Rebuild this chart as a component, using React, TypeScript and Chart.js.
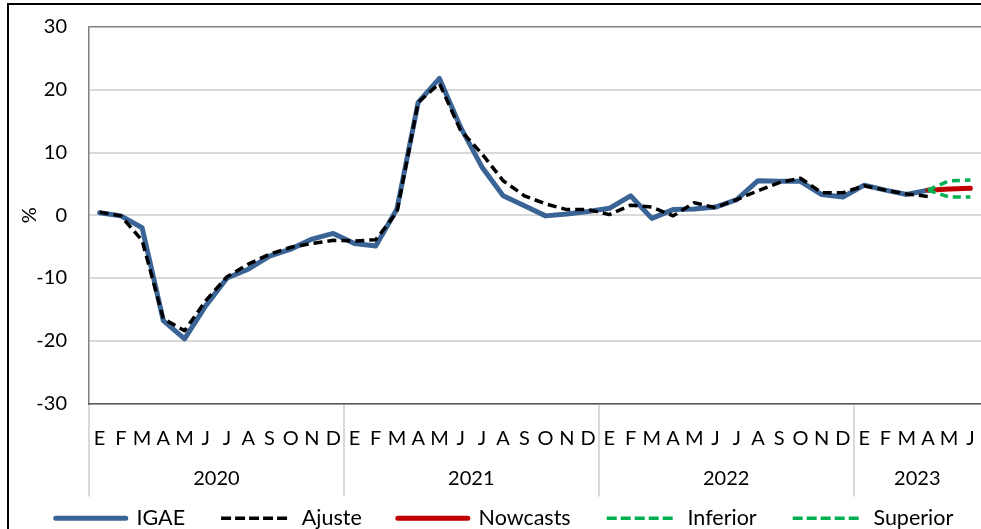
import React, { useEffect, useRef } from 'react';
import { Chart, registerables } from 'chart.js';

Chart.register(...registerables);

const monthLetters = ['E', 'F', 'M', 'A', 'M', 'J', 'J', 'A', 'S', 'O', 'N', 'D'];
const years = ['2020', '2021', '2022', '2023'];
const monthsPerYear = [12, 12, 12, 6];
const categories: string[] = monthsPerYear.flatMap((n) => monthLetters.slice(0, n));

const igae: (number | null)[] = [
  0.4, -0.1, -2.0, -16.8, -19.7, -14.4, -10.0, -8.6, -6.5, -5.4, -3.8, -2.9,
  -4.5, -4.9, 1.0, 18.0, 21.8, 14.0, 7.7, 3.1, 1.5, -0.1, 0.2, 0.6,
  1.1, 3.1, -0.5, 0.9, 1.0, 1.3, 2.5, 5.5, 5.4, 5.4, 3.3, 2.9,
  4.8, 4.0, 3.3, 4.0, null, null,
];
const ajuste: (number | null)[] = [
  0.5, -0.1, -4.0, -16.5, -18.4, -13.6, -9.8, -7.8, -6.2, -5.1, -4.5, -4.0,
  -4.1, -3.9, 0.5, 18.0, 21.0, 13.5, 9.8, 5.5, 3.1, 1.8, 0.9, 0.9,
  0.1, 1.6, 1.3, -0.1, 2.0, 1.2, 2.5, 3.9, 5.2, 5.9, 3.6, 3.6,
  4.7, 4.0, 3.4, 3.0, null, null,
];
const lead: null[] = new Array(39).fill(null);
const nowcasts: (number | null)[] = [...lead, 4.0, 4.2, 4.3];
const inferior: (number | null)[] = [...lead, 4.0, 2.9, 2.9];
const superior: (number | null)[] = [...lead, 4.0, 5.5, 5.6];

const yTicks = [-30, -20, -10, 0, 10, 20, 30];

const yearStarts = monthsPerYear.map((_, i) => monthsPerYear.slice(0, i).reduce((a, b) => a + b, 0));
const yearCenters = yearStarts.map((s, i) => s + monthsPerYear[i] / 2);
const totalMonths = categories.length;

const FONT_FAMILY = 'Lato';
const FONT_SIZE = 20;
const LEGEND_FONT_SIZE = 21.5;
const TEXT = '#000000';

export default function App() {
  const ref = useRef<HTMLCanvasElement | null>(null);

  useEffect(() => {
    if (!ref.current) return;
    const font = { family: FONT_FAMILY, size: FONT_SIZE };
    Chart.defaults.font.family = FONT_FAMILY;
    const chart = new Chart(ref.current, {
      type: 'line',
      data: {
        labels: categories,
        datasets: [
          {
            label: 'IGAE', data: igae, borderColor: '#3b6496', backgroundColor: '#3b6496',
            borderWidth: 5, borderCapStyle: 'round', borderJoinStyle: 'round',
            pointRadius: 0, tension: 0, fill: false, order: 5,
          },
          {
            label: 'Ajuste', data: ajuste, borderColor: '#000000', backgroundColor: '#000000',
            borderWidth: 3.5, borderDash: [9, 5], borderCapStyle: 'butt', borderJoinStyle: 'round',
            pointRadius: 0, tension: 0, fill: false, order: 4,
          },
          {
            label: 'Nowcasts', data: nowcasts, borderColor: '#c00000', backgroundColor: '#c00000',
            borderWidth: 5, borderCapStyle: 'round', borderJoinStyle: 'round',
            pointRadius: 0, tension: 0, fill: false, order: 3,
          },
          {
            label: 'Inferior', data: inferior, borderColor: '#00b050', backgroundColor: '#00b050',
            borderWidth: 3.5, borderDash: [8, 5], borderCapStyle: 'butt', borderJoinStyle: 'round',
            pointRadius: 0, tension: 0, fill: false, order: 2,
          },
          {
            label: 'Superior', data: superior, borderColor: '#00b050', backgroundColor: '#00b050',
            borderWidth: 3.5, borderDash: [8, 5], borderCapStyle: 'butt', borderJoinStyle: 'round',
            pointRadius: 0, tension: 0, fill: false, order: 1,
          },
        ],
      },
      options: {
        animation: false,
        responsive: false,
        maintainAspectRatio: false,
        layout: { padding: { left: 28, top: 27, right: 0, bottom: 0 } },
        plugins: {
          tooltip: { enabled: false },
          legend: {
            position: 'bottom',
            align: 'center',
            labels: {
              usePointStyle: true,
              pointStyle: 'line',
              pointStyleWidth: 70,
              boxHeight: FONT_SIZE,
              padding: 14,
              font: { family: FONT_FAMILY, size: LEGEND_FONT_SIZE },
              color: TEXT,
              generateLabels: (c: any) => {
                const items = (Chart.defaults.plugins.legend.labels as any).generateLabels(c);
                items.sort((a: any, b: any) => a.datasetIndex - b.datasetIndex);
                return items.map((it: any, i: number) => {
                  const ds: any = c.data.datasets[it.datasetIndex];
                  return {
                    ...it,
                    lineDash: ds.borderDash ? [10, 4] : [],
                    lineWidth: ds.borderWidth,
                    lineCap: ds.borderDash ? 'butt' : 'round',
                    strokeStyle: ds.borderColor,
                    text: i < items.length - 1 ? it.text + '    ' : it.text,
                  };
                });
              },
            },
          },
        },
        scales: {
          y: {
            min: -30,
            max: 30,
            afterBuildTicks: (s: any) => { s.ticks = yTicks.map((v) => ({ value: v })); },
            afterFit: (s: any) => { s.width = 61; },
            ticks: { padding: 6, font, color: TEXT },
            grid: {
              drawTicks: true,
              tickLength: 16,
              tickColor: 'rgba(0,0,0,0)',
              color: (ctx: any) => (ctx.tick && ctx.tick.value === 30 ? '#7f7f7f' : '#d9d9d9'),
              lineWidth: (ctx: any) => (ctx.tick && ctx.tick.value === 30 ? 1.5 : 2),
            },
            border: { color: '#7f7f7f', width: 1.5 },
            title: { display: true, text: '%', font, color: TEXT, padding: { top: -10, bottom: 0 } },
          },
          x: {
            type: 'category',
            offset: true,
            weight: 0,
            afterFit: (s: any) => { s.height = 50; },
            ticks: { autoSkip: false, maxRotation: 0, minRotation: 0, padding: -70, font, color: TEXT },
            grid: {
              offset: true,
              drawOnChartArea: false,
              drawTicks: true,
              tickLength: 93,
              lineWidth: 2,
              color: (ctx: any) =>
                ctx.index !== undefined && yearStarts.includes(ctx.index) ? '#d9d9d9' : 'rgba(0,0,0,0)',
            },
            border: { color: '#595959', width: 1.5 },
          },
          x2: {
            type: 'linear',
            position: 'bottom',
            weight: 1,
            min: 0,
            max: totalMonths,
            offset: false,
            afterBuildTicks: (s: any) => { s.ticks = yearCenters.map((v) => ({ value: v })); },
            afterFit: (s: any) => { s.height = 40; },
            ticks: {
              autoSkip: false,
              maxRotation: 0,
              minRotation: 0,
              padding: 13,
              font,
              color: TEXT,
              callback: (v: any) => {
                const i = yearCenters.indexOf(Number(v));
                return i >= 0 ? years[i] : '';
              },
            },
            grid: { display: false, drawTicks: false },
            border: { display: false },
          },
        },
      } as any,
    });
    return () => chart.destroy();
  }, []);

  return (
    <div
      style={{
        position: 'fixed', left: 0, top: 0, width: 981, height: 529,
        overflow: 'hidden', background: '#ffffff',
      }}
    >
      <canvas ref={ref} width={981} height={539} style={{ display: 'block', width: 981, height: 539 }} />
      <div
        style={{
          position: 'absolute', left: 7, top: 3, width: 1100, height: 1100,
          border: '2px solid #000000', pointerEvents: 'none', boxSizing: 'border-box',
        }}
      />
    </div>
  );
}
